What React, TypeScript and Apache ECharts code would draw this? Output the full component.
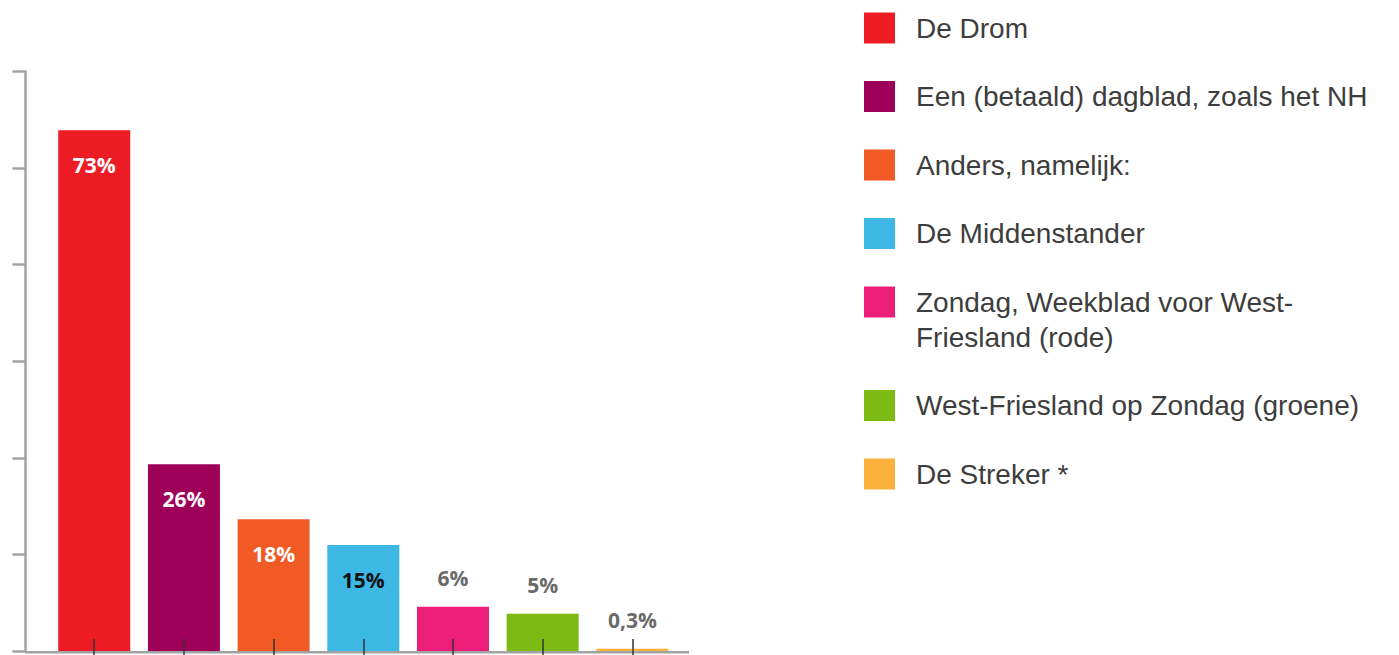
import React, { useEffect, useRef } from "react";
import * as echarts from "echarts";

const categories = [
  "De Drom",
  "Een (betaald) dagblad, zoals het NH",
  "Anders, namelijk:",
  "De Middenstander",
  "Zondag, Weekblad voor West-\nFriesland (rode)",
  "West-Friesland op Zondag (groene)",
  "De Streker *",
];
const values = [72.8, 26.1, 18.4, 14.8, 6.2, 5.2, 0.3];
const valueLabels = ["73%", "26%", "18%", "15%", "6%", "5%", "0,3%"];
const colors = ["#ED1C24", "#9E0059", "#F15A24", "#3DB7E4", "#ED1E79", "#7DBA14", "#FBB03B"];
const labelColors = ["#ffffff", "#ffffff", "#ffffff", "#111111", "#6a6a6a", "#6a6a6a", "#6a6a6a"];
const insideLabel = [true, true, true, true, false, false, false];
const yMax = 81;
const yInterval = 13.5;

export default function App() {
  const ref = useRef<HTMLDivElement>(null);
  useEffect(() => {
    if (!ref.current) return;
    const chart = echarts.init(ref.current, null, { renderer: "svg" });

    const lineH = 35;
    const step = 68.5;
    const box = 31;
    let extra = 0;
    const legends = categories.map((name, i) => {
      const lines = name.split("\n").length;
      const center = 28 + i * step + extra;
      extra += (lines - 1) * lineH;
      // multi-line items: marker aligned with the first line
      const itemH = box + (lines - 1) * lineH;
      const iconH = itemH / box;
      return {
        data: [name],
        left: 864,
        top: center - 17.5,
        padding: 0,
        orient: "vertical",
        itemWidth: box,
        itemHeight: itemH,
        icon: lines > 1 ? `path://M0,0h1v1h-1zM0,${iconH}` : "rect",
        selectedMode: false,
        textStyle: {
          fontFamily: "'Liberation Sans', Arial, sans-serif",
          fontSize: 28,
          lineHeight: lineH,
          color: "#3d3d3d",
          padding: [0, 0, 0, 16],
        },
      };
    });

    const series = categories.map((name, i) => ({
      type: "bar",
      name,
      stack: "all",
      barWidth: 72,
      xAxisIndex: 0,
      data: categories.map((_, j) => (j === i ? values[i] : "-")),
      itemStyle: { color: colors[i] },
      label: {
        show: true,
        position: insideLabel[i] ? "insideTop" : "top",
        distance: insideLabel[i] ? 24 : 18,
        formatter: valueLabels[i],
        color: labelColors[i],
        fontFamily: "'Open Sans', sans-serif",
        fontWeight: "bold",
        fontSize: 21,
      },
    }));

    const tickAxis = (inside: boolean, length: number) => ({
      type: "category",
      data: categories,
      position: "bottom",
      z: 10,
      axisLine: { show: false },
      axisTick: {
        show: true,
        interval: 0,
        alignWithLabel: true,
        inside,
        length,
        lineStyle: { color: "#333", width: 1.5 },
      },
      axisLabel: { show: false },
      splitLine: { show: false },
    });

    chart.setOption({
      animation: false,
      grid: { left: 49.4, right: 721.8, top: 71.5, bottom: 4, containLabel: false },
      legend: legends,
      xAxis: [tickAxis(true, 12), tickAxis(false, 6)],
      yAxis: {
        type: "value",
        min: 0,
        max: yMax,
        interval: yInterval,
        offset: 24,
        axisLine: { show: true, lineStyle: { color: "#a3a3a3", width: 2.5 } },
        axisTick: { show: true, length: 13, lineStyle: { color: "#a3a3a3", width: 2.5 } },
        axisLabel: { show: false },
        splitLine: { show: false },
      },
      graphic: [
        {
          type: "line",
          z: 0,
          shape: { x1: 25, y1: 652.2, x2: 689, y2: 652.2 },
          style: { stroke: "#a3a3a3", lineWidth: 2.5 },
        },
      ],
      series,
    });
    return () => chart.dispose();
  }, []);
  return (
    <div
      ref={ref}
      style={{ position: "absolute", left: 0, top: 0, width: 1399, height: 655, background: "#fff" }}
    />
  );
}
